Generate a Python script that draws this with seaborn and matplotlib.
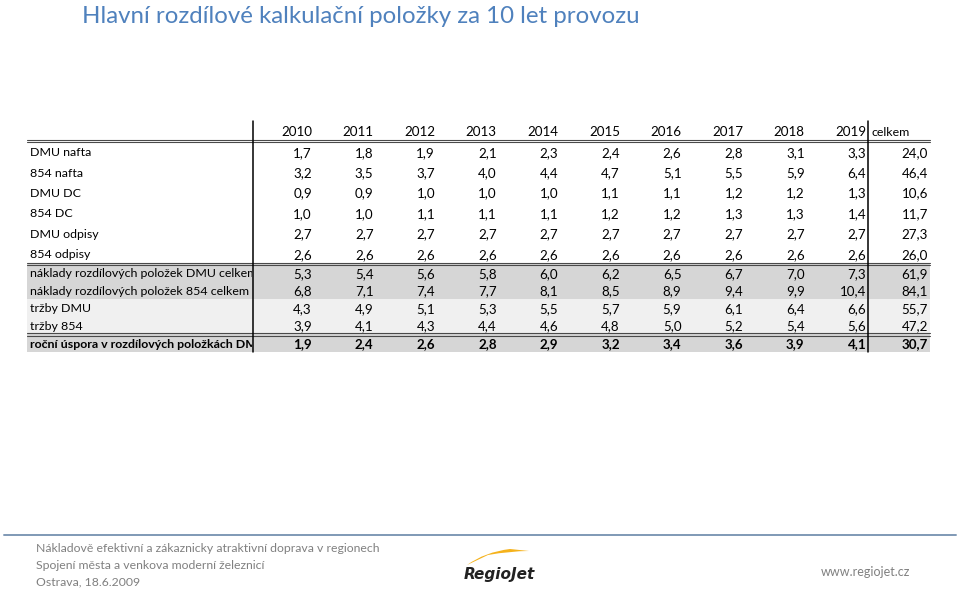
import matplotlib
matplotlib.use("Agg")
import matplotlib.pyplot as plt
import seaborn as sns
import numpy as np
from matplotlib.colors import ListedColormap
from matplotlib.lines import Line2D
from matplotlib.path import Path
from matplotlib.patches import PathPatch

sns.set_theme(style="white")
plt.rcParams['font.family'] = ['Lato', 'DejaVu Sans']

# ---------------- data ----------------
years = ['2010', '2011', '2012', '2013', '2014', '2015', '2016', '2017', '2018', '2019']
total_label = 'celkem'

top_labels = ['DMU nafta', '854 nafta', 'DMU DC', '854 DC', 'DMU odpisy', '854 odpisy']
bottom_labels = ['náklady rozdílových položek DMU celkem',
                 'náklady rozdílových položek 854 celkem',
                 'tržby DMU', 'tržby 854',
                 'roční úspora v rozdílových položkách DMU']

dmu_nafta = [1.7, 1.8, 1.9, 2.1, 2.3, 2.4, 2.6, 2.8, 3.1, 3.3, 24.0]
nafta_854 = [3.2, 3.5, 3.7, 4.0, 4.4, 4.7, 5.1, 5.5, 5.9, 6.4, 46.4]
dmu_dc = [0.9, 0.9, 1.0, 1.0, 1.0, 1.1, 1.1, 1.2, 1.2, 1.3, 10.6]
dc_854 = [1.0, 1.0, 1.1, 1.1, 1.1, 1.2, 1.2, 1.3, 1.3, 1.4, 11.7]
dmu_odpisy = [2.7, 2.7, 2.7, 2.7, 2.7, 2.7, 2.7, 2.7, 2.7, 2.7, 27.3]
odpisy_854 = [2.6, 2.6, 2.6, 2.6, 2.6, 2.6, 2.6, 2.6, 2.6, 2.6, 26.0]
naklady_dmu = [5.3, 5.4, 5.6, 5.8, 6.0, 6.2, 6.5, 6.7, 7.0, 7.3, 61.9]
naklady_854 = [6.8, 7.1, 7.4, 7.7, 8.1, 8.5, 8.9, 9.4, 9.9, 10.4, 84.1]
trzby_dmu = [4.3, 4.9, 5.1, 5.3, 5.5, 5.7, 5.9, 6.1, 6.4, 6.6, 55.7]
trzby_854 = [3.9, 4.1, 4.3, 4.4, 4.6, 4.8, 5.0, 5.2, 5.4, 5.6, 47.2]
rocni_uspora = [1.9, 2.4, 2.6, 2.8, 2.9, 3.2, 3.4, 3.6, 3.9, 4.1, 30.7]

top_rows = [dmu_nafta, nafta_854, dmu_dc, dc_854, dmu_odpisy, odpisy_854]
bottom_rows = [naklady_dmu, naklady_854, trzby_dmu, trzby_854, rocni_uspora]

# ---------------- styling ----------------
W, H = 960, 589
TITLE_C = '#4f81bd'
GRAY_C = '#808080'
bg_cmap = ListedColormap(['#ffffff', '#f0f0f0', '#d6d6d6'])
bottom_shade = [2, 2, 1, 1, 2]
FS = 9.6
FS_LAB = 8.9


def rect(x0, y0, x1, y1):
    return [x0 / W, 1 - y1 / H, (x1 - x0) / W, (y1 - y0) / H]


def fmt(v):
    return f"{v:.1f}".replace('.', ',')


fig = plt.figure(figsize=(9.6, 5.89), dpi=100)
fig.patch.set_facecolor('white')

XL, XM, XR = 27, 252.5, 930
Y0, Y1, Y2 = 141.5, 264, 352

ax_lt = fig.add_axes(rect(XL, Y0, XM, Y1))
ax_nt = fig.add_axes(rect(XM, Y0, XR, Y1))
ax_lb = fig.add_axes(rect(XL, Y1, XM, Y2))
ax_nb = fig.add_axes(rect(XM, Y1, XR, Y2))

ncol = len(years) + 1

# backgrounds via seaborn heatmaps
sns.heatmap(np.zeros((len(top_rows), 1)), ax=ax_lt, cmap=bg_cmap, vmin=0, vmax=2,
            cbar=False, xticklabels=False, yticklabels=False)
sns.heatmap(np.zeros((len(top_rows), ncol)), ax=ax_nt, cmap=bg_cmap, vmin=0, vmax=2,
            cbar=False, xticklabels=False, yticklabels=False)
sns.heatmap(np.array(bottom_shade, dtype=float).reshape(-1, 1), ax=ax_lb, cmap=bg_cmap,
            vmin=0, vmax=2, cbar=False, xticklabels=False, yticklabels=False)
sns.heatmap(np.repeat(np.array(bottom_shade, dtype=float).reshape(-1, 1), ncol, axis=1),
            ax=ax_nb, cmap=bg_cmap, vmin=0, vmax=2, cbar=False,
            xticklabels=False, yticklabels=False)

for ax in (ax_lt, ax_nt, ax_lb, ax_nb):
    ax.axis('off')

lab_x = (30 - XL) / (XM - XL)

# labels
for i, lab in enumerate(top_labels):
    ax_lt.text(lab_x, i + 0.5, lab, ha='left', va='center_baseline', fontsize=FS_LAB,
               color='#000000', clip_on=True)
for i, lab in enumerate(bottom_labels):
    bold = (i == len(bottom_labels) - 1)
    ax_lb.text(lab_x, i + 0.5, lab, ha='left', va='center_baseline', fontsize=FS_LAB,
               color='#000000', clip_on=True, fontweight='bold' if bold else 'normal')

# numbers
for i, row in enumerate(top_rows):
    for j, v in enumerate(row):
        ax_nt.text(j + 0.965, i + 0.5, fmt(v), ha='right', va='center_baseline',
                   fontsize=FS, color='#000000')
for i, row in enumerate(bottom_rows):
    bold = (i == len(bottom_rows) - 1)
    for j, v in enumerate(row):
        ax_nb.text(j + 0.965, i + 0.5, fmt(v), ha='right', va='center_baseline',
                   fontsize=FS, color='#000000', fontweight='bold' if bold else 'normal')

# header
for j, y in enumerate(years):
    ax_nt.text(j + 0.965, -0.5, y, ha='right', va='center_baseline', fontsize=FS,
               color='#000000', clip_on=False)
ax_nt.text(len(years) + 0.05, -0.5, total_label, ha='left', va='center_baseline',
           fontsize=FS_LAB, color='#000000', clip_on=False)


def hline(y, x0, x1, color='#4a4a4a', lw=0.8):
    fig.add_artist(Line2D([x0 / W, x1 / W], [1 - y / H, 1 - y / H],
                          transform=fig.transFigure, color=color, lw=lw))


def vline(x, y0, y1, color='#000000', lw=1.1):
    fig.add_artist(Line2D([x / W, x / W], [1 - y0 / H, 1 - y1 / H],
                          transform=fig.transFigure, color=color, lw=lw))


for yy in (139.6, 141.8):
    hline(yy, XL, XR)
for yy in (263.0, 265.2):
    hline(yy, XL, XR)
for yy in (333.3, 335.5):
    hline(yy, XL, XR)
vline(252.7, 120.5, 352)
vline(868.3, 120.5, 352)

# title
fig.text(82 / W, 1 - 16.5 / H, 'Hlavní rozdílové kalkulační položky za 10 let provozu',
         ha='left', va='center', fontsize=17.3, color=TITLE_C)

# footer
hline(535, 4, 956, color='#7f99b6', lw=1.4)
footer_lines = ['Nákladově efektivní a zákaznicky atraktivní doprava v regionech',
                'Spojení města a venkova moderní železnicí',
                'Ostrava, 18.6.2009']
for k, t in enumerate(footer_lines):
    fig.text(36 / W, 1 - (549 + 16.5 * k) / H, t, ha='left', va='center',
             fontsize=8.85, color=GRAY_C)
fig.text(910 / W, 1 - 572 / H, 'www.regiojet.cz', ha='right', va='center',
         fontsize=9.0, color=GRAY_C)

# logo: yellow swoosh + text
verts = [(467, 565), (485, 552), (510, 549), (529, 551),
         (510, 551), (488, 555), (473, 568)]
pv = [(x / W, 1 - y / H) for x, y in verts]
path = Path([pv[0], pv[1], pv[2], pv[3], pv[4], pv[5], pv[0], pv[0]],
            [Path.MOVETO, Path.CURVE3, Path.CURVE3, Path.LINETO,
             Path.CURVE3, Path.CURVE3, Path.LINETO, Path.CLOSEPOLY])
fig.add_artist(PathPatch(path, transform=fig.transFigure, facecolor='#f5b21b',
                         edgecolor='none'))
fig.text(499 / W, 1 - 574 / H, 'RegioJet', ha='center', va='center', fontsize=11,
         fontweight='bold', fontstyle='italic', color='#222222',
         family=['DejaVu Sans'])

fig.savefig('out.png', dpi=100, facecolor='white')
